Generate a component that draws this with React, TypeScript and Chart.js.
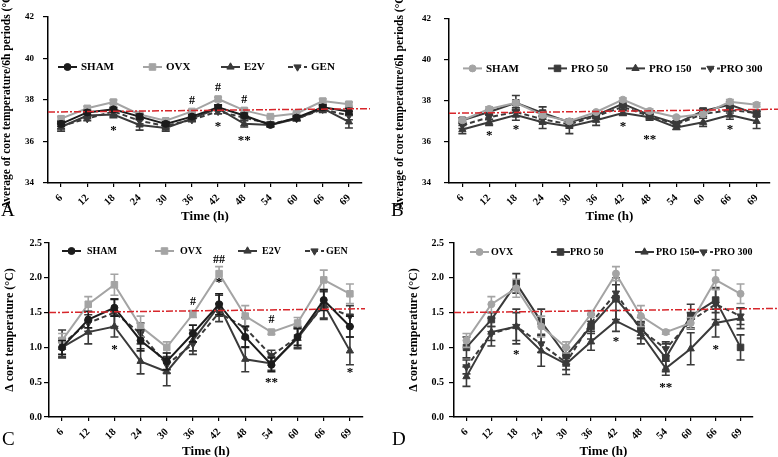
import React, { useEffect, useRef } from "react";
import { Chart, registerables } from "chart.js";
import { drawPoint } from "chart.js/helpers";
Chart.register(...registerables);

const SERIF = "'Liberation Serif', 'Times New Roman', serif";

const timeLabels = ["6", "12", "18", "24", "30", "36", "42", "48", "54", "60", "66", "69"];

// ---------- Panel A: average core temperature ----------
const aSham = [36.85, 37.4, 37.55, 37.2, 36.85, 37.2, 37.65, 37.25, 36.8, 37.15, 37.65, 37.45];
const aShamErr = [0.12, 0.1, 0.1, 0.12, 0.1, 0.1, 0.12, 0.12, 0.08, 0.1, 0.12, 0.15];
const aOvx = [37.1, 37.6, 37.9, 37.3, 37.0, 37.45, 38.05, 37.5, 37.2, 37.35, 37.95, 37.8];
const aOvxErr = [0.1, 0.1, 0.1, 0.12, 0.08, 0.05, 0.08, 0.1, 0.05, 0.06, 0.1, 0.1];
const aE2v = [36.7, 37.25, 37.3, 36.8, 36.65, 37.1, 37.6, 36.85, 36.8, 37.1, 37.6, 36.95];
const aE2vErr = [0.2, 0.15, 0.15, 0.25, 0.15, 0.12, 0.12, 0.15, 0.1, 0.1, 0.15, 0.3];
const aGen = [36.75, 37.1, 37.45, 37.0, 36.75, 37.05, 37.45, 37.15, 36.85, 37.1, 37.55, 37.25];
const aGenErr = [0.15, 0.1, 0.15, 0.15, 0.12, 0.1, 0.12, 0.12, 0.08, 0.1, 0.15, 0.2];
const aRef = [37.42, 37.58];
const aMarks = [
  { i: 2, v: 36.62, t: "*" },
  { i: 5, v: 37.97, t: "#" },
  { i: 6, v: 38.6, t: "#" },
  { i: 6, v: 36.83, t: "*" },
  { i: 7, v: 38.0, t: "#" },
  { i: 7, v: 36.15, t: "**" },
];

// ---------- Panel B ----------
const bSham = [37.05, 37.6, 37.9, 37.3, 37.0, 37.45, 38.05, 37.5, 37.2, 37.35, 37.95, 37.8];
const bShamErr = [0.1, 0.1, 0.1, 0.12, 0.08, 0.05, 0.08, 0.1, 0.05, 0.06, 0.1, 0.1];
const bPro50 = [37.05, 37.45, 37.9, 37.4, 36.95, 37.3, 37.85, 37.3, 36.9, 37.5, 37.8, 37.35];
const bPro50Err = [0.12, 0.1, 0.35, 0.3, 0.12, 0.12, 0.15, 0.12, 0.12, 0.12, 0.15, 0.12];
const bPro150 = [36.6, 36.95, 37.3, 36.95, 36.75, 37.05, 37.4, 37.2, 36.7, 36.95, 37.3, 37.0];
const bPro150Err = [0.2, 0.15, 0.25, 0.3, 0.35, 0.25, 0.12, 0.15, 0.1, 0.2, 0.2, 0.35];
const bPro300 = [36.8, 37.2, 37.45, 37.1, 36.85, 37.25, 37.7, 37.25, 36.85, 37.35, 37.55, 37.4];
const bPro300Err = [0.15, 0.12, 0.2, 0.15, 0.12, 0.12, 0.12, 0.12, 0.1, 0.12, 0.15, 0.15];
const bRef = [37.39, 37.58];
const bMarks = [
  { i: 1, v: 36.38, t: "*" },
  { i: 2, v: 36.7, t: "*" },
  { i: 6, v: 36.83, t: "*" },
  { i: 7, v: 36.22, t: "**" },
  { i: 10, v: 36.67, t: "*" },
];

// ---------- Panel C: delta core temperature ----------
const cSham = [1.0, 1.4, 1.57, 1.1, 0.8, 1.2, 1.62, 1.15, 0.75, 1.15, 1.68, 1.3];
const cShamErr = [0.1, 0.12, 0.12, 0.15, 0.12, 0.12, 0.15, 0.15, 0.1, 0.12, 0.15, 0.15];
const cOvx = [1.1, 1.62, 1.9, 1.3, 1.0, 1.48, 2.06, 1.45, 1.22, 1.35, 1.97, 1.77];
const cOvxErr = [0.1, 0.11, 0.15, 0.15, 0.08, 0.05, 0.1, 0.15, 0.03, 0.08, 0.14, 0.14];
const cE2v = [1.0, 1.22, 1.3, 0.8, 0.65, 1.1, 1.6, 0.83, 0.77, 1.13, 1.62, 0.95];
const cE2vErr = [0.13, 0.17, 0.15, 0.18, 0.2, 0.15, 0.15, 0.18, 0.1, 0.15, 0.2, 0.2];
const cGen = [1.05, 1.35, 1.5, 1.2, 0.75, 1.05, 1.5, 1.28, 0.88, 1.15, 1.6, 1.45];
const cGenErr = [0.2, 0.12, 0.2, 0.15, 0.12, 0.15, 0.13, 0.15, 0.08, 0.15, 0.2, 0.15];
const cRef = [1.5, 1.555];
const cMarks = [
  { i: 2, v: 1.0, t: "*" },
  { i: 5, v: 1.65, t: "#" },
  { i: 6, v: 2.25, t: "##" },
  { i: 6, v: 1.96, t: "*" },
  { i: 8, v: 1.4, t: "#" },
  { i: 8, v: 0.52, t: "**" },
  { i: 11, v: 0.67, t: "*" },
];

// ---------- Panel D ----------
const dOvx = [1.1, 1.62, 1.85, 1.3, 1.0, 1.48, 2.06, 1.45, 1.22, 1.35, 1.97, 1.77];
const dOvxErr = [0.1, 0.11, 0.13, 0.15, 0.08, 0.05, 0.1, 0.15, 0.03, 0.08, 0.14, 0.14];
const dPro50 = [1.0, 1.4, 1.92, 1.37, 0.88, 1.3, 1.7, 1.28, 0.85, 1.45, 1.68, 1.0];
const dPro50Err = [0.15, 0.1, 0.14, 0.18, 0.12, 0.18, 0.3, 0.15, 0.2, 0.17, 0.18, 0.18];
const dPro150 = [0.58, 1.22, 1.3, 0.95, 0.76, 1.08, 1.38, 1.2, 0.7, 0.98, 1.35, 1.42];
const dPro150Err = [0.14, 0.2, 0.25, 0.22, 0.15, 0.12, 0.15, 0.15, 0.1, 0.23, 0.2, 0.15];
const dPro300 = [0.72, 1.2, 1.3, 1.05, 0.78, 1.35, 1.78, 1.25, 0.98, 1.38, 1.62, 1.45];
const dPro300Err = [0.1, 0.1, 0.2, 0.12, 0.1, 0.12, 0.12, 0.12, 0.1, 0.12, 0.22, 0.12];
const dRef = [1.5, 1.555];
const dMarks = [
  { i: 2, v: 0.92, t: "*" },
  { i: 6, v: 1.11, t: "*" },
  { i: 8, v: 0.45, t: "**" },
  { i: 10, v: 1.0, t: "*" },
];

const BLACK = "#1c1c1c";
const DARK = "#3a3a3a";
const GRAY = "#a4a4a4";

type Series = {
  label: string;
  data: number[];
  err: number[];
  color: string;
  style: string;
  rotation?: number;
  dash?: boolean;
};

type Spec = {
  left: number;
  top: number;
  w: number;
  h: number;
  letter: string;
  yTitle: string;
  yMin: number;
  yMax: number;
  yStep: number;
  decimals: number;
  series: Series[];
  ref: number[];
  marks: { i: number; v: number; t: string }[];
  yWidth: number;
  xHeight: number;
  padTop: number;
  padRight: number;
  refExtend: number;
  legendY: number;
  legendX: number[];
  legendTextGap: number[];
  legendFont: number;
  yTitleX: number;
  yTitleSize: number;
  tickSize: number;
  yTickPad: number;
  xTitlePadBottom: number;
  letterBaseline: number;
  letterX: number;
};

const specs: Spec[] = [
  {
    left: 0, top: 0, w: 389, h: 228, letter: "A",
    yTitle: "Average of core temperature/6h periods (°C)",
    yMin: 34, yMax: 42, yStep: 2, decimals: 0,
    series: [
      { label: "SHAM", data: aSham, err: aShamErr, color: BLACK, style: "circle" },
      { label: "OVX", data: aOvx, err: aOvxErr, color: GRAY, style: "rect" },
      { label: "E2V", data: aE2v, err: aE2vErr, color: DARK, style: "triangle" },
      { label: "GEN", data: aGen, err: aGenErr, color: DARK, style: "triangle", rotation: 180, dash: true },
    ],
    ref: aRef, marks: aMarks,
    yWidth: 48, xHeight: 45, padTop: 17, padRight: 27, refExtend: 8,
    legendY: 50, legendX: [10, 95, 173, 240], legendTextGap: [23, 23, 23, 23], legendFont: 11,
    yTitleX: 7, yTitleSize: 11.5, tickSize: 9, yTickPad: 9,
    xTitlePadBottom: 4, letterBaseline: 216, letterX: 1,
  },
  {
    left: 389, top: 0, w: 389, h: 228, letter: "B",
    yTitle: "Average of core temperature/6h periods (°C)",
    yMin: 34, yMax: 42, yStep: 2, decimals: 0,
    series: [
      { label: "SHAM", data: bSham, err: bShamErr, color: GRAY, style: "circle" },
      { label: "PRO 50", data: bPro50, err: bPro50Err, color: DARK, style: "rect" },
      { label: "PRO 150", data: bPro150, err: bPro150Err, color: DARK, style: "triangle" },
      { label: "PRO 300", data: bPro300, err: bPro300Err, color: DARK, style: "triangle", rotation: 180, dash: true },
    ],
    ref: bRef, marks: bMarks,
    yWidth: 60, xHeight: 45, padTop: 17, padRight: 8, refExtend: 8,
    legendY: 50, legendX: [14, 99, 177, 252], legendTextGap: [23, 23, 23, 19], legendFont: 11,
    yTitleX: 11, yTitleSize: 11.5, tickSize: 9, yTickPad: 13,
    xTitlePadBottom: 4, letterBaseline: 216, letterX: 2,
  },
  {
    left: 0, top: 228, w: 389, h: 229, letter: "C",
    yTitle: "Δ core temperature (°C)",
    yMin: 0, yMax: 2.5, yStep: 0.5, decimals: 1,
    series: [
      { label: "SHAM", data: cSham, err: cShamErr, color: BLACK, style: "circle" },
      { label: "OVX", data: cOvx, err: cOvxErr, color: GRAY, style: "rect" },
      { label: "E2V", data: cE2v, err: cE2vErr, color: DARK, style: "triangle" },
      { label: "GEN", data: cGen, err: cGenErr, color: DARK, style: "triangle", rotation: 180, dash: true },
    ],
    ref: cRef, marks: cMarks,
    yWidth: 49, xHeight: 40, padTop: 15, padRight: 26, refExtend: 2,
    legendY: 8, legendX: [13, 106, 189, 256], legendTextGap: [25, 25, 24, 21], legendFont: 10,
    yTitleX: 10, yTitleSize: 12, tickSize: 10, yTickPad: 2,
    xTitlePadBottom: -2, letterBaseline: 217, letterX: 2,
  },
  {
    left: 389, top: 228, w: 389, h: 229, letter: "D",
    yTitle: "Δ core temperature (°C)",
    yMin: 0, yMax: 2.5, yStep: 0.5, decimals: 1,
    series: [
      { label: "OVX", data: dOvx, err: dOvxErr, color: GRAY, style: "circle" },
      { label: "PRO 50", data: dPro50, err: dPro50Err, color: DARK, style: "rect" },
      { label: "PRO 150", data: dPro150, err: dPro150Err, color: DARK, style: "triangle" },
      { label: "PRO 300", data: dPro300, err: dPro300Err, color: DARK, style: "triangle", rotation: 180, dash: true },
    ],
    ref: dRef, marks: dMarks,
    yWidth: 65, xHeight: 40, padTop: 15, padRight: 25, refExtend: 25,
    legendY: 9, legendX: [16, 97, 181, 240], legendTextGap: [21, 19, 21, 20], legendFont: 10,
    yTitleX: 25, yTitleSize: 12, tickSize: 10, yTickPad: 5,
    xTitlePadBottom: -2, letterBaseline: 217, letterX: 3,
  },
];

function Panel({ spec }: { spec: Spec }) {
  const ref = useRef<HTMLCanvasElement>(null);
  useEffect(() => {
    const canvas = ref.current as HTMLCanvasElement;
    const datasets = spec.series.map((s) => ({
      label: s.label,
      data: s.data,
      errors: s.err,
      borderColor: s.color,
      backgroundColor: s.color,
      pointBackgroundColor: s.color,
      pointBorderColor: s.color,
      borderWidth: 2,
      borderDash: s.dash ? [5, 3] : [],
      pointStyle: s.style,
      pointRadius: s.style === "circle" ? 3.5 : s.style === "rect" ? 4.6 : 4.2,
      pointRotation: s.rotation || 0,
      pointBorderWidth: 1,
      tension: 0,
      fill: false,
    }));

    const plugin = {
      id: "panelDecor",
      afterDatasetDraw(chart: any, args: any) {
        const ds = chart.data.datasets[args.index];
        const errs: number[] = ds.errors;
        if (!errs) return;
        const y = chart.scales.y;
        const ctx = chart.ctx;
        ctx.save();
        ctx.strokeStyle = ds.borderColor;
        ctx.lineWidth = 1.6;
        ctx.setLineDash([]);
        args.meta.data.forEach((pt: any, i: number) => {
          const v = ds.data[i];
          const e = errs[i];
          const x = pt.x;
          const t = y.getPixelForValue(v + e);
          const b = y.getPixelForValue(v - e);
          ctx.beginPath();
          ctx.moveTo(x, t);
          ctx.lineTo(x, b);
          ctx.moveTo(x - 4, t);
          ctx.lineTo(x + 4, t);
          ctx.moveTo(x - 4, b);
          ctx.lineTo(x + 4, b);
          ctx.stroke();
        });
        ctx.restore();
      },
      afterDraw(chart: any) {
        const ctx = chart.ctx;
        const area = chart.chartArea;
        const xs = chart.scales.x;
        const ys = chart.scales.y;
        ctx.save();
        // reference line
        ctx.strokeStyle = "#d7262b";
        ctx.lineWidth = 1.5;
        ctx.setLineDash([7, 2, 2, 2]);
        const x0 = area.left;
        const x1 = area.right + spec.refExtend;
        const slope = (spec.ref[1] - spec.ref[0]) / (area.right - area.left);
        ctx.beginPath();
        ctx.moveTo(x0, ys.getPixelForValue(spec.ref[0]));
        ctx.lineTo(x1, ys.getPixelForValue(spec.ref[0] + slope * (x1 - x0)));
        ctx.stroke();
        ctx.setLineDash([]);

        // significance marks
        ctx.fillStyle = "#000";
        ctx.textAlign = "center";
        ctx.textBaseline = "middle";
        spec.marks.forEach((m) => {
          const isStar = m.t.indexOf("*") >= 0;
          ctx.font = `bold ${isStar ? 13 : 12}px ${SERIF}`;
          ctx.fillText(m.t, xs.getPixelForValue(m.i), ys.getPixelForValue(m.v) + (isStar ? 2 : 0));
        });

        // legend
        const ly = area.top + spec.legendY;
        chart.data.datasets.forEach((ds: any, i: number) => {
          const lx = area.left + spec.legendX[i];
          ctx.strokeStyle = ds.borderColor;
          ctx.fillStyle = ds.borderColor;
          ctx.lineWidth = 2;
          ctx.setLineDash(ds.borderDash || []);
          ctx.beginPath();
          ctx.moveTo(lx, ly);
          ctx.lineTo(lx + 19, ly);
          ctx.stroke();
          ctx.setLineDash([]);
          ctx.lineWidth = 1;
          drawPoint(ctx, {
            pointStyle: ds.pointStyle,
            rotation: ds.pointRotation,
            radius: ds.pointRadius,
            borderWidth: 1,
          } as any, lx + 9.5, ly);
          ctx.fillStyle = "#000";
          ctx.font = `bold ${spec.legendFont}px ${SERIF}`;
          ctx.textAlign = "left";
          ctx.textBaseline = "middle";
          ctx.fillText(ds.label, lx + spec.legendTextGap[i], ly + 0.5);
        });

        // y title (not width-limited)
        ctx.fillStyle = "#000";
        ctx.font = `bold ${spec.yTitleSize}px ${SERIF}`;
        ctx.textAlign = "center";
        ctx.textBaseline = "middle";
        ctx.translate(spec.yTitleX, (area.top + area.bottom) / 2);
        ctx.rotate(-Math.PI / 2);
        ctx.fillText(spec.yTitle, 0, 0);
        ctx.setTransform(1, 0, 0, 1, 0, 0);

        // panel letter
        ctx.font = `19px ${SERIF}`;
        ctx.textAlign = "left";
        ctx.textBaseline = "alphabetic";
        ctx.fillText(spec.letter, spec.letterX, spec.letterBaseline);
        ctx.restore();
      },
    };

    const chart = new Chart(canvas, {
      type: "line",
      data: { labels: timeLabels, datasets: datasets as any },
      options: {
        responsive: false,
        animation: false,
        devicePixelRatio: 1,
        layout: { padding: { left: 0, top: spec.padTop, right: spec.padRight, bottom: 0 } },
        plugins: {
          legend: { display: false },
          tooltip: { enabled: false },
          title: { display: false },
        },
        scales: {
          x: {
            type: "category",
            offset: true,
            grid: {
              drawOnChartArea: false,
              drawTicks: true,
              tickLength: 4,
              offset: false,
              color: "#000",
              lineWidth: 1.2,
            },
            border: { color: "#000", width: 1.5 },
            ticks: {
              color: "#000",
              font: { family: SERIF, size: 10.5, weight: "bold" },
              maxRotation: 45,
              minRotation: 45,
              padding: 5,
              autoSkip: false,
            },
            title: {
              display: true,
              text: "Time (h)",
              color: "#000",
              font: { family: SERIF, size: 13, weight: "bold" },
              padding: { top: 0, bottom: spec.xTitlePadBottom },
            },
            afterFit: (scale: any) => {
              scale.height = spec.xHeight;
            },
          },
          y: {
            type: "linear",
            min: spec.yMin,
            max: spec.yMax,
            grid: {
              drawOnChartArea: false,
              drawTicks: true,
              tickLength: 5,
              color: "#000",
              lineWidth: 1.2,
            },
            border: { color: "#000", width: 1.5 },
            ticks: {
              stepSize: spec.yStep,
              color: "#000",
              font: { family: SERIF, size: spec.tickSize, weight: "bold" },
              padding: spec.yTickPad,
              callback: (v: any) => Number(v).toFixed(spec.decimals),
            },
            afterFit: (scale: any) => {
              scale.width = spec.yWidth;
            },
          },
        },
      } as any,
      plugins: [plugin],
    });
    return () => chart.destroy();
  }, [spec]);
  return (
    <canvas
      ref={ref}
      width={spec.w}
      height={spec.h}
      style={{ position: "absolute", left: spec.left, top: spec.top, width: spec.w, height: spec.h, display: "block" }}
    />
  );
}

export default function App() {
  return (
    <div style={{ position: "absolute", left: 0, top: 0, width: 778, height: 457, background: "#fff", overflow: "hidden" }}>
      {specs.map((s) => (
        <Panel key={s.letter} spec={s} />
      ))}
    </div>
  );
}
